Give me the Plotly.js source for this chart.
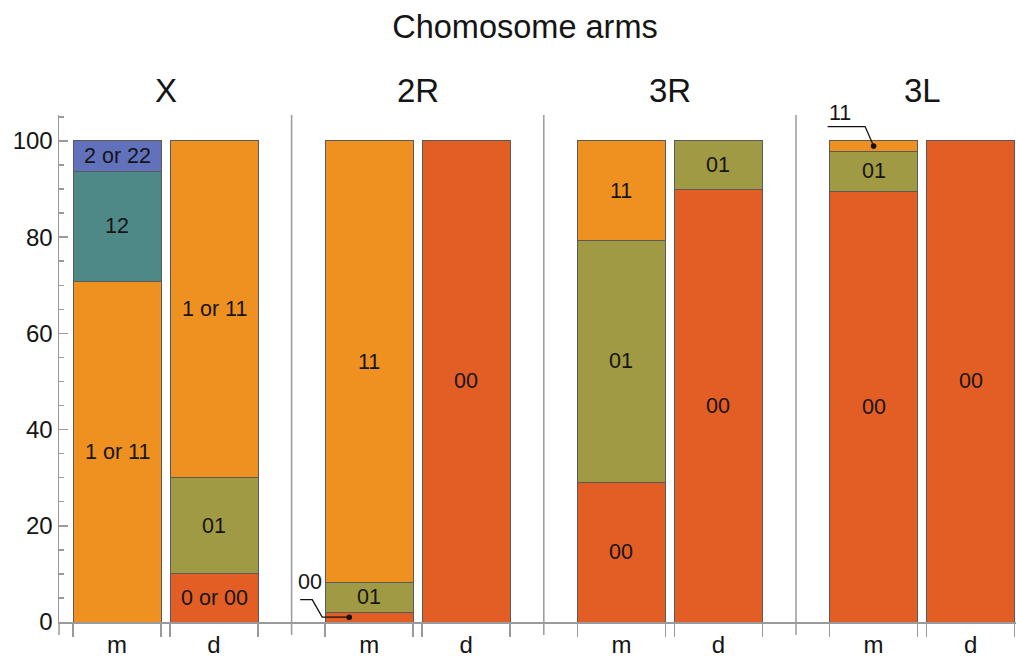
<!DOCTYPE html>
<html><head><meta charset="utf-8">
<script src="https://cdn.plot.ly/plotly-3.0.1.min.js"></script>
<style>html,body{margin:0;padding:0;background:#fff;}</style>
</head><body><div id="chart" style="width:1016px;height:659px;"></div>
<script>
// ---------- data ----------
const chartTitle = 'Chomosome arms';
const arms = ['X', '2R', '3R', '3L'];
const parents = ['m', 'd'];
// bar order: X m, X d, 2R m, 2R d, 3R m, 3R d, 3L m, 3L d
const zeroVals   = [null, 10, 2, 100, 29.1, 90, 89.6, 100];
const oneVals    = [null, 20, 6.3, null, 50.2, 10, 8.3, null];
const elevenVals = [70.8, 70, 91.7, null, 20.7, null, 2.1, null];
const twelveVals = [22.9, null, null, null, null, null, null, null];
const twoVals    = [6.3, null, null, null, null, null, null, null];

const zeroText   = ['', '0 or 00', '00', '00', '00', '00', '00', '00'];
const oneText    = ['', '01', '01', '', '01', '01', '01', ''];
const elevenText = ['1 or 11', '1 or 11', '11', '', '11', '', '11', ''];
const twelveText = ['12', '', '', '', '', '', '', ''];
const twoText    = ['2 or 22', '', '', '', '', '', '', ''];

// ---------- style ----------
const COLORS = ['#E35E24', '#9F9A43', '#EF9121', '#4E8987', '#6271BC'];
const GROUP_STEP = 2.6, BAR_STEP = 1, BAR_W = 0.907;
const X_START = -0.598, X_SPAN = 957 / 97;
const FONT = 'Liberation Sans, Arial, Helvetica, sans-serif';
const TXT = '#151515';
const AX = '#9a9a9a';
const LABEL_SIZE = 21.5;

const series = [
  {vals: zeroVals, text: zeroText},
  {vals: oneVals, text: oneText},
  {vals: elevenVals, text: elevenText},
  {vals: twelveVals, text: twelveText},
  {vals: twoVals, text: twoText}
];
// labels drawn outside with a leader line: [series index, bar index, style]
const callouts = [
  {s: 0, b: 2, path: 'M -20,0 L -47,0 L -57,17.5 L -69,17.5', dx: -20, tx: -59, ty: 35},
  {s: 2, b: 6, path: 'M 0,0 L -8.5,19.5 L -46,19.5', dx: 0, tx: -34, ty: 33}
];

const xs = [];
arms.forEach((a, g) => parents.forEach((p, s) => xs.push(g * GROUP_STEP + s * BAR_STEP)));
const tickText = [];
arms.forEach(() => parents.forEach(p => tickText.push(p)));
const edges = [];
xs.forEach(x => { edges.push(x - BAR_W / 2, x + BAR_W / 2); });

const traces = series.map((sr, i) => ({
  type: 'bar', x: xs, y: sr.vals, width: BAR_W,
  marker: {color: COLORS[i], line: {color: '#5a5a5a', width: 1}},
  hoverinfo: 'skip', showlegend: false
}));

const annotations = [];
const shapes = [];
const base = xs.map(() => 0);
series.forEach((sr, i) => {
  sr.vals.forEach((v, b) => {
    if (v == null) return;
    const mid = base[b] + v / 2;
    const co = callouts.find(c => c.s === i && c.b === b);
    if (co) {
      shapes.push({type: 'path', xref: 'x', yref: 'y', xsizemode: 'pixel', ysizemode: 'pixel',
        xanchor: xs[b], yanchor: mid, path: co.path, line: {color: '#111', width: 1.3}});
      shapes.push({type: 'circle', xref: 'x', yref: 'y', xsizemode: 'pixel', ysizemode: 'pixel',
        xanchor: xs[b], yanchor: mid, x0: co.dx - 2.8, x1: co.dx + 2.8, y0: -2.8, y1: 2.8,
        fillcolor: '#111', line: {width: 0}});
      annotations.push({x: xs[b], y: mid, xref: 'x', yref: 'y', text: sr.text[b], showarrow: false,
        xshift: co.tx, yshift: co.ty, font: {size: LABEL_SIZE, color: TXT, family: FONT}});
    } else if (sr.text[b]) {
      annotations.push({x: xs[b], y: mid, xref: 'x', yref: 'y', text: sr.text[b], showarrow: false,
        font: {size: LABEL_SIZE, color: TXT, family: FONT}});
    }
    base[b] += v;
  });
});

// group labels
arms.forEach((a, g) => {
  annotations.push({x: g * GROUP_STEP + BAR_STEP / 2, y: 1, xref: 'x', yref: 'paper', yanchor: 'middle',
    yshift: 25, text: a, showarrow: false, font: {size: 33, color: TXT, family: FONT}});
});
// group separators and y-axis extension
const below = -13 / 507;
for (let g = 0; g < arms.length - 1; g++) {
  const sx = g * GROUP_STEP + BAR_STEP + (GROUP_STEP - BAR_STEP) / 2;
  shapes.push({type: 'line', xref: 'x', yref: 'paper', x0: sx, x1: sx, y0: below, y1: 1,
    line: {color: AX, width: 1.5}, layer: 'below'});
}
shapes.push({type: 'line', xref: 'paper', yref: 'paper', x0: 0, x1: 0, y0: below, y1: 0,
  line: {color: AX, width: 1.5}});

const layout = {
  width: 1016, height: 659,
  margin: {l: 59, r: 0, t: 115, b: 37, pad: 0},
  barmode: 'stack',
  showlegend: false,
  paper_bgcolor: '#fff', plot_bgcolor: '#fff',
  font: {family: FONT, color: TXT},
  title: {text: chartTitle, font: {size: 32.5, color: TXT, family: FONT},
    x: 525 / 1016, xref: 'container', xanchor: 'center',
    y: 1 - 27 / 659, yref: 'container', yanchor: 'middle'},
  xaxis: {range: [X_START, X_START + X_SPAN], tickmode: 'array', tickvals: xs, ticktext: tickText,
    ticks: '', showline: true, linecolor: AX, linewidth: 1.5, showgrid: false, zeroline: false,
    tickfont: {size: 24, color: TXT, family: FONT}, ticklabelstandoff: 1,
    minor: {tickmode: 'array', tickvals: edges, ticks: 'outside', ticklen: 13, tickcolor: AX, tickwidth: 1.5, showgrid: false}},
  yaxis: {range: [0, 105.4], tickmode: 'array', tickvals: [0, 20, 40, 60, 80, 100],
    ticks: 'inside', ticklen: 9, tickcolor: AX, tickwidth: 1.5,
    showline: true, linecolor: AX, linewidth: 1.5, showgrid: false, zeroline: false,
    tickfont: {size: 24, color: TXT, family: FONT},
    minor: {tickmode: 'linear', tick0: 0, dtick: 5, ticks: 'inside', ticklen: 5, tickcolor: AX, tickwidth: 1.5, showgrid: false}},
  annotations: annotations,
  shapes: shapes
};

Plotly.newPlot('chart', traces, layout, {staticPlot: true, displayModeBar: false});
</script>
</body></html>
